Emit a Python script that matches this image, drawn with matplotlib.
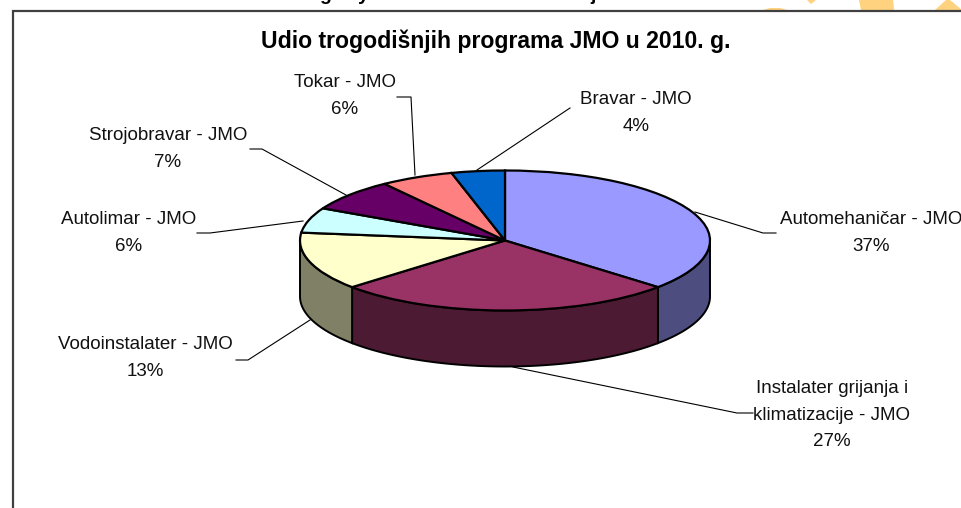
import numpy as np
import matplotlib
matplotlib.use('Agg')
import matplotlib.pyplot as plt

plt.rcParams['font.family'] = ['Liberation Sans', 'DejaVu Sans']

labels = ['Automehaničar - JMO', 'Instalater grijanja i\nklimatizacije - JMO',
          'Vodoinstalater - JMO', 'Autolimar - JMO', 'Strojobravar - JMO',
          'Tokar - JMO', 'Bravar - JMO']
values = [36.6, 26.8, 13.4, 5.8, 7.4, 5.8, 4.2]
title = 'Udio trogodišnjih programa JMO u 2010. g.'

colors = ['#9999FF', '#993366', '#FFFFCC', '#CCFFFF', '#660066', '#FF8080', '#0066CC']
wall_colors = ['#4D4D80', '#4D1A33', '#808066', '#668080', '#330033', '#804040', '#003366']

# label centre and leader line, in pixels of the image
label_pos = [(871, 233), (832, 415), (145, 358), (129, 233), (168, 149), (345, 96), (636, 113)]
leaders = [
    [(695, 212), (763, 233), (776, 233)],
    [(513, 367), (737, 413), (753, 413)],
    [(310, 320), (248, 360), (236, 360)],
    [(303, 221), (210, 233), (197, 233)],
    [(346, 195), (262, 149), (250, 149)],
    [(415, 175), (411, 97), (397, 97)],
    [(477, 170), (570, 108)],
]

cx, cy, rx, ry, depth = 505, 240.5, 205, 70, 56

fig = plt.figure(figsize=(9.62, 5.08), dpi=100, facecolor='white')

# pie axes: one data unit is the radius of the squashed pie
ax = fig.add_axes([0, 0, 1, 1])
wedges, _ = ax.pie(values, colors=colors, startangle=90, counterclock=False,
                   wedgeprops=dict(edgecolor='black', linewidth=1.6, zorder=3))
ax.set_aspect('auto')
ax.set_xlim(-cx / rx, (962 - cx) / rx)
ax.set_ylim((cy - 508) / ry, cy / ry)
ax.patch.set_alpha(0)

# side wall of the pie, only the front half can be seen
dz = depth / ry
edges = np.cumsum([0] + values) / sum(values) * 2 * np.pi
for i in range(len(values)):
    a = max(edges[i], np.pi / 2)
    b = min(edges[i + 1], 3 * np.pi / 2)
    if a >= b:
        continue
    t = np.linspace(a, b, 80)
    x = np.sin(t)
    y = np.cos(t)
    ax.fill(np.r_[x, x[::-1]], np.r_[y, y[::-1] - dz], facecolor=wall_colors[i],
            edgecolor='black', linewidth=1.4, zorder=2)

# overlay in image pixels for the frame and the texts
px = fig.add_axes([0, 0, 1, 1], zorder=5)
px.set_xlim(0, 962)
px.set_ylim(508, 0)
px.axis('off')

px.plot([13, 13, 962], [508, 11, 11], color='#404040', linewidth=1.6, solid_joinstyle='miter')

px.text(496, 41, title, fontsize=16.6, fontweight='bold', ha='center', va='center')

for name, v, (lx, ly) in zip(labels, values, label_pos):
    px.text(lx, ly, f'{name}\n{v:.0f}%', fontsize=13.5, ha='center', va='center',
            linespacing=1.72, color='#111111')

for line in leaders:
    xs, ys = zip(*line)
    px.plot(xs, ys, color='black', linewidth=0.8, zorder=1)

# orange bits of the page behind, cut by the frame
orange = '#FFD27F'
px.fill([763, 770, 780, 787], [10, 8, 8, 10], color=orange, linewidth=0)
px.fill([807, 811, 816], [0, 4, 0], color=orange, linewidth=0)
px.fill([859, 893, 894, 861], [0, 0, 10, 10], color=orange, linewidth=0)
px.fill([935, 946, 950, 962], [10, 0, 0, 10], color=orange, linewidth=0)

# tails of the cut off heading above the frame
for x0, ch in [(325, 'g'), (363, 'y'), (593, 'j')]:
    px.text(x0, -5, ch, fontsize=14, fontweight='bold', ha='center', va='center', clip_on=False)

fig.savefig('out.png', dpi=100)
